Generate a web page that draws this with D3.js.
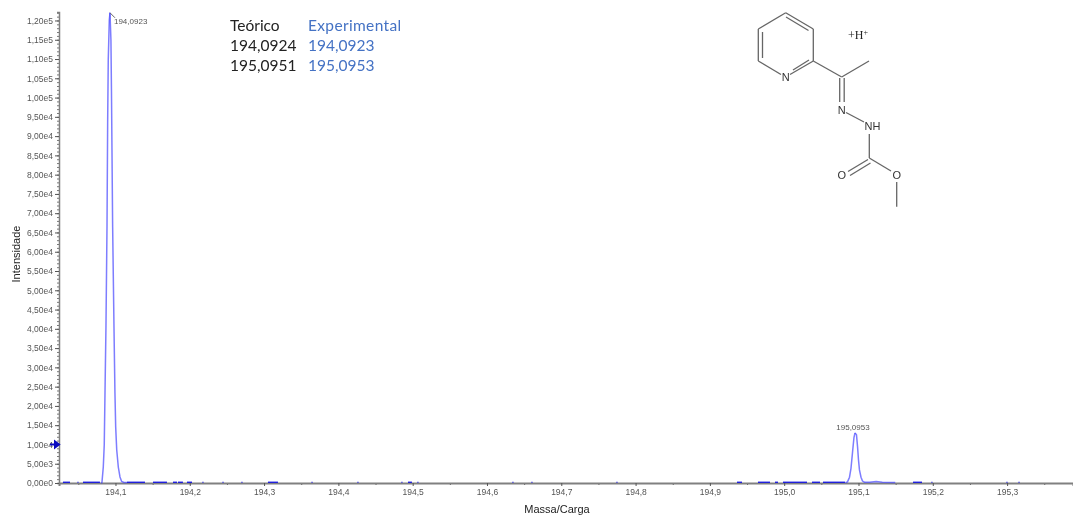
<!DOCTYPE html>
<html>
<head>
<meta charset="utf-8">
<script src="https://cdn.jsdelivr.net/npm/d3@7"></script>
<style>
    html, body { margin: 0; padding: 0; background: #fff; overflow: hidden; }
    svg { display: block; filter: blur(0.35px); }
</style>
</head>
<body>
<div id="chart"></div>
<script>
// spectrum: m/z and intensity
const peak1Mz = [194.0805, 194.0818, 194.0836, 194.0849, 194.0859, 194.0872, 194.0886, 194.0895, 194.0903, 194.0917, 194.0926,
    194.0939, 194.0946, 194.0953, 194.0962, 194.098, 194.0993, 194.1003, 194.1017, 194.1038, 194.1061, 194.1083, 194.1114, 194.1155];
const peak1Int = [0, 130, 4150, 9900, 23350, 40500, 66400, 94200, 109800, 120100, 122000,
    115000, 102000, 86400, 66400, 40500, 23350, 14500, 8560, 4150, 1560, 400, 130, 100];
const peak2Mz = [195.0825, 195.0852, 195.0879, 195.0899, 195.0919, 195.0939, 195.0953, 195.0973, 195.0987, 195.1,
    195.1013, 195.1034, 195.1054, 195.108, 195.115, 195.1238, 195.132, 195.1495];
const peak2Int = [60, 300, 1500, 3800, 7800, 11800, 13000, 12500, 9500, 6000,
    3400, 1500, 500, 200, 200, 400, 200, 150];

// little baseline runs of noise, start and end m/z
const noiseRuns = [[194.0293, 194.0388], [194.0488, 194.0503], [194.0563, 194.0791], [194.1155, 194.1397], [194.1505, 194.1693],
    [194.1774, 194.1828], [194.1841, 194.1908], [194.1962, 194.203], [194.217, 194.2185], [194.244, 194.2455], [194.2695, 194.271],
    [194.3052, 194.3187], [194.3638, 194.3653], [194.4256, 194.4271], [194.4848, 194.4863], [194.4937, 194.499], [194.5063, 194.5078],
    [194.6342, 194.6357], [194.6598, 194.6613], [194.7742, 194.7757], [194.9365, 194.9432], [194.9647, 194.9809], [194.9876, 194.9917],
    [194.9984, 195.0307], [195.0374, 195.0482], [195.0522, 195.0818], [195.1734, 195.1855], [195.1981, 195.1996],
    [195.2991, 195.3006], [195.3153, 195.3168]];
const noiseLevel = 200;

const peakLabels = ["194,0923", "195,0953"];
const peakLabelMz = [194.0926, 195.0953];
const peakLabelInt = [122000, 13000];

const tableHead = ["Teórico", "Experimental"];
const tableTheoretical = ["194,0924", "195,0951"];
const tableExperimental = ["194,0923", "195,0953"];

const yMajor = d3.range(0, 120001, 5000);
const yMinor = d3.range(0, 122001, 1000);
const xMajor = d3.range(194.1, 195.31, 0.1);
const xMinor = d3.range(194.05, 195.36, 0.1);

// molecule drawing, page pixels
const singleBonds = [[785.7, 12.7, 813.3, 29], [813.3, 61, 841.7, 77], [841.7, 77, 869, 61], [758.3, 61, 781, 74.5],
    [846, 112.5, 864, 122], [869.3, 134, 869.3, 158], [869.3, 158, 891, 171], [896.7, 182, 896.7, 206.7]];
const lineBonds = [[813.3, 29, 813.3, 61], [758.3, 29, 785.7, 12.7], [758.3, 29, 758.3, 61], [790, 74.5, 813.3, 61]];
const innerBonds = [[786, 17, 808.5, 30.5], [762.5, 32, 762.5, 58], [793, 70, 809, 60],
    [839.7, 78, 839.7, 102], [844.2, 78, 844.2, 102], [848, 171.5, 868, 159.5], [850, 175.5, 870.5, 163]];
const atomLabels = [["N", 785.7, 77], ["N", 841.7, 110], ["NH", 872.5, 126], ["O", 841.7, 175], ["O", 896.7, 175]];

chart();

function chart() {

    let margin = { top: 12, right: 0, bottom: 32, left: 59 },
        width = 1073 - margin.left - margin.right,
        height = 515 - margin.top - margin.bottom;

    let root = d3.select("#chart").append("svg")
        .attr("width", 1073)
        .attr("height", 515);

    let svg = root.append("g")
        .attr("transform", "translate(" + margin.left + "," + margin.top + ")");

    // set the scales
    let x = d3.scaleLinear()
        .domain([194.024, 195.3887])
        .range([0, width]);
    let y = d3.scaleLinear()
        .domain([0, 122200])
        .range([height, 0]);

    let line = d3.line()
        .x(d => x(d[0]))
        .y(d => y(d[1]));

    // x axis with minor ticks
    svg.append("g")
        .attr("transform", "translate(0," + height + ")")
        .call(d3.axisBottom(x).tickValues(xMinor).tickSize(2).tickFormat(""))
        .call(g => g.selectAll("line").attr("stroke", "#555"))
        .call(g => g.select(".domain").remove());

    let xAxis = svg.append("g")
        .attr("transform", "translate(0," + height + ")")
        .call(d3.axisBottom(x).tickValues(xMajor).tickSize(3).tickPadding(3)
            .tickFormat(d => d3.format(".1f")(d).replace(".", ",")));
    xAxis.select(".domain").attr("stroke", "#808080").attr("stroke-width", 2);
    xAxis.selectAll("line").attr("stroke", "#555");
    xAxis.selectAll("text")
        .style("font-family", "'Liberation Sans'")
        .style("font-size", "8.5px")
        .attr("fill", "#555");

    // y axis with the dense minor ticks
    svg.append("g")
        .call(d3.axisLeft(y).tickValues(yMinor).tickSize(2).tickFormat(""))
        .call(g => g.selectAll("line").attr("stroke", "#777"))
        .call(g => g.select(".domain").attr("stroke", "#808080").attr("stroke-width", 1.5));

    let yAxis = svg.append("g")
        .call(d3.axisLeft(y).tickValues(yMajor).tickSize(4).tickPadding(2)
            .tickFormat(d => d3.format(".2e")(d).replace(".", ",").replace("+", "")));
    yAxis.select(".domain").remove();
    yAxis.selectAll("line").attr("stroke", "#555");
    yAxis.selectAll("text")
        .style("font-family", "'Liberation Sans'")
        .style("font-size", "8.5px")
        .attr("fill", "#555");

    // baseline noise, just above the axis line
    svg.selectAll(".noise")
        .data(noiseRuns)
        .enter()
        .append("line")
        .attr("class", "noise")
        .attr("x1", d => x(d[0]))
        .attr("x2", d => x(d[1]))
        .attr("y1", y(noiseLevel))
        .attr("y2", y(noiseLevel))
        .attr("stroke", "#0000e0")
        .attr("stroke-width", 1.2);

    // the two peaks, rising and falling side apart so they darken where they meet
    [[peak1Mz, peak1Int], [peak2Mz, peak2Int]].forEach(p => {
        let pts = p[0].map((m, i) => [m, p[1][i]]);
        let apex = d3.maxIndex(p[1]);
        [pts.slice(0, apex + 1), pts.slice(apex)].forEach(side => {
            svg.append("path")
                .datum(side)
                .attr("fill", "none")
                .attr("stroke", "#4040ff")
                .attr("stroke-opacity", 0.68)
                .attr("stroke-width", 1.5)
                .attr("d", line);
        });
    });

    // axis titles
    root.append("text")
        .attr("transform", "translate(20,254) rotate(-90)")
        .style("text-anchor", "middle")
        .style("font-family", "'Liberation Sans'")
        .style("font-size", "11px")
        .attr("fill", "#222")
        .text("Intensidade");

    root.append("text")
        .attr("x", 557)
        .attr("y", 513)
        .style("text-anchor", "middle")
        .style("font-family", "'Liberation Sans'")
        .style("font-size", "11px")
        .attr("fill", "#222")
        .text("Massa/Carga");

    // threshold arrow on the y axis
    root.append("path")
        .attr("d", "M" + (margin.left - 9) + "," + (margin.top + y(10000))
            + "h5v-3l4,3l-4,3v-3")
        .attr("fill", "#0a0ac0")
        .attr("stroke", "#0a0ac0")
        .attr("stroke-width", 2);

    // peak labels
    svg.append("line")
        .attr("x1", x(peakLabelMz[0]))
        .attr("y1", y(peakLabelInt[0]))
        .attr("x2", x(peakLabelMz[0]) + 5)
        .attr("y2", y(peakLabelInt[0]) + 5)
        .attr("stroke", "#666");

    svg.append("text")
        .attr("x", x(peakLabelMz[0]) + 4)
        .attr("y", y(peakLabelInt[0]) + 11)
        .style("font-family", "'Liberation Sans'")
        .style("font-size", "8px")
        .attr("fill", "#555")
        .text(peakLabels[0]);

    svg.append("text")
        .attr("x", x(peakLabelMz[1]) - 2)
        .attr("y", y(peakLabelInt[1]) - 3)
        .style("text-anchor", "middle")
        .style("font-family", "'Liberation Sans'")
        .style("font-size", "8px")
        .attr("fill", "#555")
        .text(peakLabels[1]);

    // small table on top
    let table = root.append("g")
        .style("font-family", "Lato")
        .style("font-size", "15.5px");
    tableHead.forEach((t, i) => {
        table.append("text").attr("x", i ? 308 : 230).attr("y", 31)
            .attr("fill", i ? "#4472c4" : "#222")
            .style("letter-spacing", i ? "0.35px" : "0")
            .text(t);
    });
    [0, 1].forEach(i => {
        table.append("text").attr("x", 230).attr("y", 51 + i * 20).attr("fill", "#222").text(tableTheoretical[i]);
        table.append("text").attr("x", 308).attr("y", 51 + i * 20).attr("fill", "#4472c4").text(tableExperimental[i]);
    });

    // molecule
    let mol = root.append("g");
    mol.selectAll(".bond")
        .data(singleBonds.concat(lineBonds, innerBonds))
        .enter()
        .append("line")
        .attr("class", "bond")
        .attr("x1", d => d[0])
        .attr("y1", d => d[1])
        .attr("x2", d => d[2])
        .attr("y2", d => d[3])
        .attr("stroke", "#666")
        .attr("stroke-width", 1.3);

    mol.selectAll(".atom")
        .data(atomLabels)
        .enter()
        .append("text")
        .attr("class", "atom")
        .attr("x", d => d[1])
        .attr("y", d => d[2] + 4)
        .style("text-anchor", "middle")
        .style("font-family", "'Liberation Sans'")
        .style("font-size", "11px")
        .attr("fill", "#333")
        .text(d => d[0]);

    let hPlus = root.append("text")
        .attr("x", 848)
        .attr("y", 39)
        .style("font-family", "'Liberation Serif'")
        .style("font-size", "12px")
        .attr("fill", "#222");
    hPlus.append("tspan").text("+H");
    hPlus.append("tspan").attr("dy", -4).style("font-size", "8px").text("+");
}
</script>
</body>
</html>
